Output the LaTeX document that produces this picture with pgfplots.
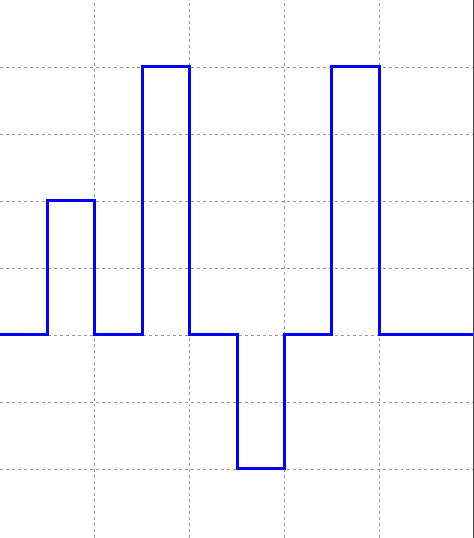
\documentclass[border=0pt]{standalone}
\usepackage{pgfplots}
\pgfplotsset{compat=1.18}
\begin{document}
\begin{tikzpicture}
\begin{axis}[
scale only axis,width=474bp,height=538bp,
xmin=0,xmax=5,ymin=-3.03,ymax=5,
xtick={1,2,3,4},ytick={-2,-1,0,1,2,3,4},
xticklabels={},yticklabels={},
major tick length=0pt,
grid=major,
major grid style={gray!80,dashed,line width=0.7pt},
axis line style={draw=none},
]
\addplot[const plot,blue,line width=3bp] coordinates {
(0,0) (0.5,2) (1,0) (1.5,4) (2,0) (2.5,-2) (3,0) (3.5,4) (4,0) (5,0)
};
\coordinate (sw) at (rel axis cs:0,0);
\coordinate (ne) at (rel axis cs:1,1);
\end{axis}
\draw[gray!60!black,line width=2bp] (ne) -- (sw -| ne);
\pgfresetboundingbox
\path[use as bounding box] (sw) rectangle (ne);
\end{tikzpicture}
\end{document}
